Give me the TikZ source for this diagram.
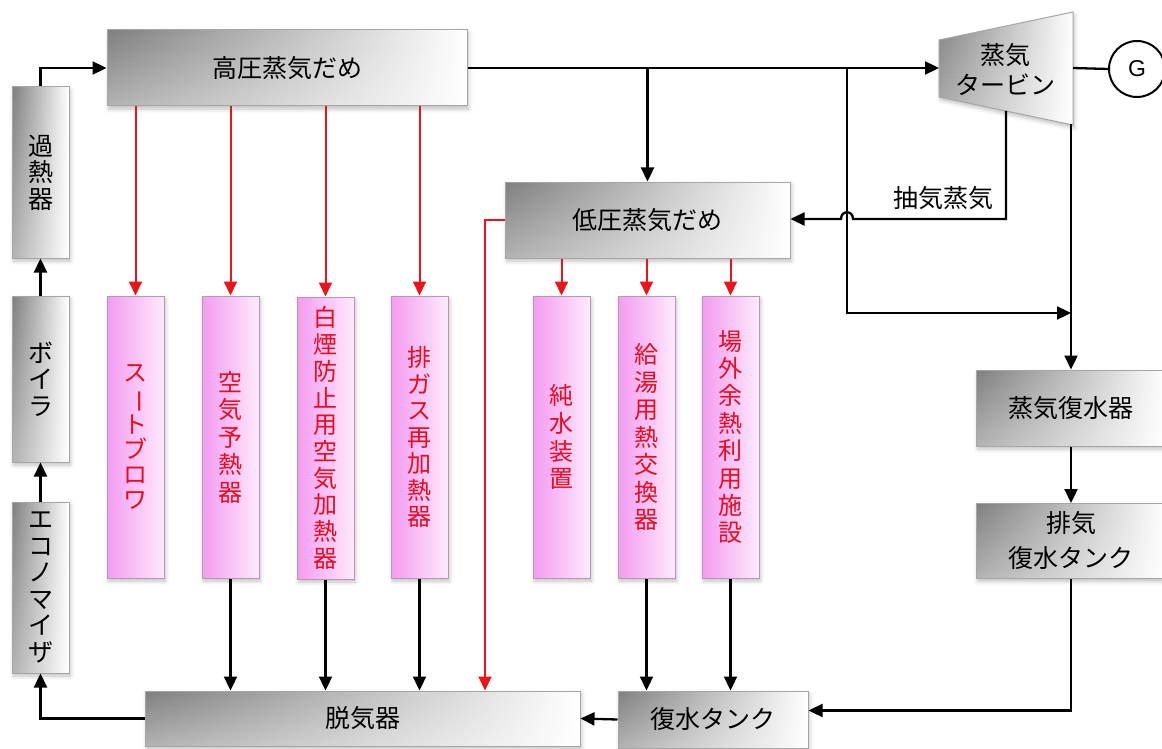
\documentclass[tikz,border=0pt]{standalone}
\usepackage{fontspec}
\usepackage{graphicx}
\setmainfont{Noto Sans CJK JP}
\newfontfamily\gfont{Liberation Sans}
\usetikzlibrary{arrows.meta,shadows.blur,calc}
\definecolor{pinkL}{RGB}{243,155,240}
\definecolor{pinkM}{RGB}{249,198,246}
\definecolor{pinkR}{RGB}{253,234,252}
\definecolor{pinkB}{RGB}{185,150,180}
\definecolor{txtred}{RGB}{235,10,30}
\definecolor{lred}{RGB}{235,20,25}
\newcommand{\vbar}{\rotatebox[origin=c]{-90}{ー}}
\begin{document}
\begin{tikzpicture}[x=1pt,y=-1pt,
  every node/.style={inner sep=0pt},
  txt/.style={font=\fontsize{25}{29}\selectfont, align=center},
  shd/.style={blur shadow={shadow xshift=1.5pt, shadow yshift=-3pt, shadow blur radius=4pt, shadow opacity=25}},
  greyfill/.style={fill=white, path picture={
      \fill[left color=black!50, middle color=black!12, right color=white]
        (path picture bounding box.south west) rectangle (path picture bounding box.north east);
      \foreach \i in {0,...,23}{
        \pgfmathsetmacro\opv{0.4*(\i+0.5)/24}
        \fill[white, fill opacity=\opv]
          ($(path picture bounding box.north west)!{\i/24}!(path picture bounding box.south west)$)
          rectangle
          ($(path picture bounding box.north east)!{(\i+1)/24}!(path picture bounding box.south east)$);
      }}},
  gbox/.style={txt, draw=black!35, line width=1pt, greyfill, shd},
  gboxv/.style={gbox, font=\fontsize{25}{26.5}\selectfont},
  pbox/.style={align=center, text=txtred, draw=pinkB, line width=1pt,
    left color=pinkL, middle color=pinkM, right color=pinkR,
    minimum width=57pt, minimum height=282pt, shd},
  arr/.style={line width=2.3pt, draw=black, -{Triangle[length=14pt,width=13pt]}},
  rarr/.style={line width=2pt, draw=lred, -{Triangle[length=14pt,width=13pt]}},
  ln/.style={line width=2.3pt, draw=black}
]
\useasboundingbox (0,0) rectangle (1162,749);

% grey boxes
\node[gbox, minimum width=360pt, minimum height=76pt] (hp) at (287,68) {高圧蒸気だめ};
\node[gboxv, minimum width=57pt, minimum height=171pt] (sh) at (40.5,172.5) {過\\熱\\器};
\node[gboxv, minimum width=57pt, minimum height=166pt] (bo) at (40.5,379) {ボ\\イ\\ラ};
\node[gboxv, minimum width=57pt, minimum height=171pt] (ec) at (40.5,587.5) {エ\\コ\\ノ\\マ\\イ\\ザ};
\node[gbox, minimum width=435pt, minimum height=55pt] (de) at (362.5,718.5) {脱気器};
\node[gbox, minimum width=190pt, minimum height=57pt] (ct) at (713,719.5) {復水タンク};
\node[gbox, minimum width=285pt, minimum height=76pt] (lp) at (647.5,220) {低圧蒸気だめ};
\node[gbox, minimum width=190pt, minimum height=76pt] (cd) at (1071,408) {蒸気復水器};
\node[gbox, minimum width=190pt, minimum height=75pt, font=\fontsize{25}{35}\selectfont] (et) at (1071,541) {排気\\復水タンク};

% pink boxes
\node[pbox, font=\fontsize{24}{25}\selectfont] (p1) at (135.5,437) {ス\\\vbar\\ト\\ブ\\ロ\\ワ};
\node[pbox, font=\fontsize{24}{27.5}\selectfont] (p2) at (230.5,437) {空\\気\\予\\熱\\器};
\node[pbox, font=\fontsize{24}{26.7}\selectfont] (p3) at (325.5,438) {白\\煙\\防\\止\\用\\空\\気\\加\\熱\\器};
\node[pbox, font=\fontsize{24}{26.5}\selectfont] (p4) at (419.5,437) {排\\ガ\\ス\\再\\加\\熱\\器};
\node[pbox, font=\fontsize{24}{27.8}\selectfont] (p5) at (561.5,437) {純\\水\\装\\置};
\node[pbox, font=\fontsize{24}{27.5}\selectfont] (p6) at (646.5,437) {給\\湯\\用\\熱\\交\\換\\器};
\node[pbox, font=\fontsize{24}{27.4}\selectfont] (p7) at (730.5,437) {場\\外\\余\\熱\\利\\用\\施\\設};

% turbine
\coordinate (t1) at (939,40);
\coordinate (t2) at (1073,12);
\coordinate (t3) at (1073,125);
\coordinate (t4) at (939,97);
\coordinate (tin) at (939,68);
\coordinate (tout) at (1073,68);
\coordinate (tex) at (1071,124);
\coordinate (tbx) at (1006,111);
\path[draw=black!35, line width=1pt, greyfill, shd] (t1) -- (t2) -- (t3) -- (t4) -- cycle;
\node[txt, font=\fontsize{25}{30}\selectfont] (tt) at (1005,70) {蒸気\\タービン};
\node[draw, line width=2pt, circle, minimum size=56pt, font=\gfont\fontsize{23}{26}\selectfont] (G) at (1137,69) {G};
\node[txt] (ex) at (943,198) {抽気蒸気};

% connectors left loop
\draw[arr] (sh.north) |- (hp.west);
\draw[arr] (bo.north) -- (sh.south);
\draw[arr] (ec.north) -- (bo.south);
\draw[arr] (de.west) -| (ec.south);
\draw[arr] (ct.west) -- (de.east);

% red arrows from high pressure header
\foreach \p in {p1,p2,p3,p4}
  \draw[rarr] (\p.north |- hp.south) -- (\p.north);
% red arrows from low pressure header
\foreach \p in {p5,p6,p7}
  \draw[rarr] (\p.north |- lp.south) -- (\p.north);
% return arrows
\foreach \p in {p2,p3,p4}
  \draw[arr] (\p.south) -- (\p.south |- de.north);
\foreach \p in {p6,p7}
  \draw[arr] (\p.south) -- (\p.south |- ct.north);
\coordinate (rl) at (485,220);
\draw[rarr] (lp.west) -- (rl) -- (rl |- de.north);

% main steam
\draw[arr] (hp.east) -- (tin);
\draw[arr] (lp.north |- hp.east) -- (lp.north);
\coordinate (j2) at (847,68);
\coordinate (j3) at (1071,313);
\draw[arr] (j2) |- (j3);
\draw[ln] (tout) -- (G.west);
% extraction with line hop
\coordinate (h1) at (853,219);
\coordinate (h2) at (841,219);
\draw[arr] (tbx) |- (h1) .. controls (853,210) and (841,210) .. (h2) -- (h2 -| lp.east);
% exhaust
\draw[arr] (tex) -- (cd.north);
\draw[arr] (cd.south) -- (et.north);
\draw[arr] (et.south) |- ([yshift=9pt]ct.east);
\end{tikzpicture}
\end{document}
